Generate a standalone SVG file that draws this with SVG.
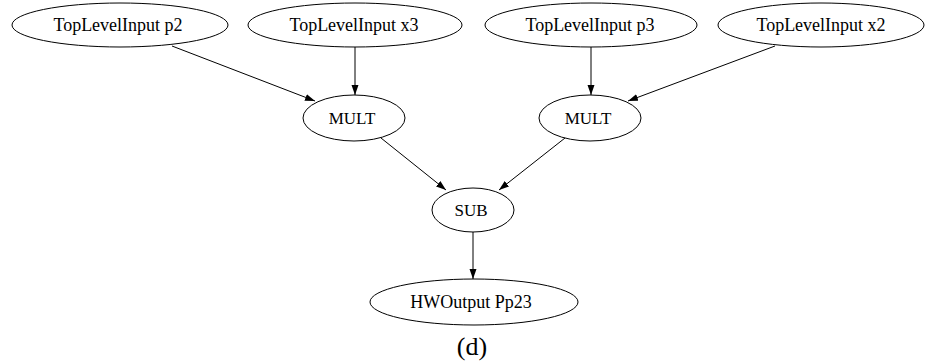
<svg xmlns="http://www.w3.org/2000/svg" width="925" height="364" viewBox="0 0 925 364">
<style>
.n ellipse{fill:none;stroke:#000;stroke-width:1}
.n text,.cap{font-family:"Liberation Serif","Times New Roman",serif;font-size:18px;text-anchor:middle;fill:#000}
.n text.s{font-size:17px}
.cap{font-size:26px}
.e line{stroke:#000;stroke-width:1;marker-end:url(#ah)}
</style>
<defs>
<marker id="ah" markerUnits="userSpaceOnUse" markerWidth="10" markerHeight="8" refX="10" refY="3.5" orient="auto">
<path d="M0,0 L10,3.5 L0,7 Z" fill="#000"/>
</marker>
</defs>
<rect width="925" height="364" fill="#fff"/>
<g id="edges" class="e">
<line x1="172" y1="46" x2="315" y2="101"/>
<line x1="355" y1="47" x2="355" y2="95"/>
<line x1="591" y1="47" x2="591" y2="95"/>
<line x1="775" y1="46" x2="628" y2="101"/>
<line x1="381" y1="138" x2="446" y2="190"/>
<line x1="565" y1="138" x2="499" y2="190"/>
<line x1="473" y1="232" x2="473" y2="279"/>
</g>
<g id="p2" class="n"><ellipse cx="120" cy="25" rx="108" ry="22"/><text x="118" y="31">TopLevelInput p2</text></g>
<g id="x3" class="n"><ellipse cx="355" cy="25" rx="107" ry="22"/><text x="354" y="31">TopLevelInput x3</text></g>
<g id="p3" class="n"><ellipse cx="591" cy="25" rx="106" ry="22"/><text x="590" y="31">TopLevelInput p3</text></g>
<g id="x2" class="n"><ellipse cx="821" cy="25" rx="103" ry="22"/><text x="821" y="31">TopLevelInput x2</text></g>
<g id="mult1" class="n"><ellipse cx="354" cy="118" rx="51" ry="23"/><text class="s" x="352" y="124">MULT</text></g>
<g id="mult2" class="n"><ellipse cx="590" cy="118" rx="51" ry="23"/><text class="s" x="588" y="124">MULT</text></g>
<g id="sub" class="n"><ellipse cx="473" cy="210" rx="41" ry="22"/><text class="s" x="471" y="216">SUB</text></g>
<g id="out" class="n"><ellipse cx="474" cy="302" rx="104" ry="23"/><text x="471" y="308">HWOutput Pp23</text></g>
<text class="cap" x="472" y="355">(d)</text>
</svg>
